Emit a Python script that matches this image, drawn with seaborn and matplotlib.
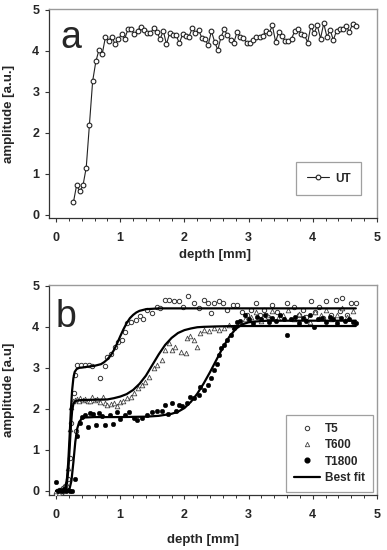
import numpy as np
import pandas as pd
import matplotlib
matplotlib.use("Agg")
import matplotlib.pyplot as plt
from matplotlib.ticker import MultipleLocator
from matplotlib.lines import Line2D
import seaborn as sns

# ---------------- data: panel a ----------------
UT_x = [0.27, 0.32, 0.37, 0.42, 0.47, 0.52, 0.57, 0.62, 0.67, 0.72,
        0.77, 0.82, 0.87, 0.92, 0.97, 1.02, 1.07, 1.12, 1.17, 1.22,
        1.27, 1.32, 1.37, 1.42, 1.47, 1.52, 1.57, 1.62, 1.67, 1.72,
        1.77, 1.82, 1.87, 1.92, 1.97, 2.02, 2.07, 2.12, 2.17, 2.22,
        2.27, 2.32, 2.37, 2.42, 2.47, 2.52, 2.57, 2.62, 2.67, 2.72,
        2.77, 2.82, 2.87, 2.92, 2.97, 3.02, 3.07, 3.12, 3.17, 3.22,
        3.27, 3.32, 3.37, 3.42, 3.47, 3.52, 3.57, 3.62, 3.67, 3.72,
        3.77, 3.82, 3.87, 3.92, 3.97, 4.02, 4.07, 4.12, 4.17, 4.22,
        4.27, 4.32, 4.37, 4.42, 4.47, 4.52, 4.57, 4.62, 4.67]
UT_y = [0.30, 0.72, 0.57, 0.72, 1.15, 2.20, 3.26, 3.74, 4.03, 3.93,
        4.34, 4.25, 4.34, 4.16, 4.28, 4.40, 4.30, 4.52, 4.52, 4.41,
        4.49, 4.59, 4.51, 4.43, 4.43, 4.55, 4.47, 4.28, 4.49, 4.16,
        4.44, 4.39, 4.39, 4.18, 4.40, 4.36, 4.34, 4.55, 4.44, 4.51,
        4.32, 4.28, 4.14, 4.48, 4.22, 4.02, 4.34, 4.52, 4.38, 4.26,
        4.20, 4.46, 4.33, 4.31, 4.20, 4.20, 4.26, 4.33, 4.33, 4.36,
        4.49, 4.43, 4.62, 4.22, 4.46, 4.36, 4.23, 4.23, 4.30, 4.49,
        4.52, 4.41, 4.39, 4.20, 4.61, 4.43, 4.62, 4.30, 4.67, 4.34,
        4.51, 4.26, 4.49, 4.54, 4.54, 4.61, 4.46, 4.66, 4.61]

# ---------------- data: panel b ----------------
T5_x = [0.00, 0.04, 0.08, 0.11, 0.14, 0.18, 0.21, 0.23, 0.31, 0.28,
        0.30, 0.33, 0.39, 0.45, 0.51, 0.56, 0.69, 0.76, 0.80, 0.86,
        0.92, 0.97, 1.03, 1.07, 1.10, 1.17, 1.25, 1.31, 1.36, 1.42,
        1.49, 1.57, 1.62, 1.69, 1.76, 1.83, 1.91, 1.98, 2.06, 2.15,
        2.23, 2.31, 2.36, 2.41, 2.46, 2.54, 2.60, 2.67, 2.75, 2.82,
        2.90, 2.98, 3.04, 3.11, 3.17, 3.24, 3.30, 3.37, 3.44, 3.50,
        3.60, 3.71, 3.78, 3.84, 3.90, 3.97, 4.04, 4.10, 4.16, 4.20,
        4.28, 4.36, 4.42, 4.46, 4.53, 4.59, 4.67]
T5_y = [-0.08, 0.02, -0.05, 0.08, 0.12, 0.30, 0.80, 1.66, 1.45, 2.39,
        2.83, 3.07, 3.06, 3.06, 3.06, 3.05, 2.76, 3.05, 3.27, 3.33,
        3.52, 3.64, 3.68, 3.88, 4.09, 4.13, 4.17, 4.27, 4.19, 4.41,
        4.33, 4.49, 4.45, 4.66, 4.66, 4.62, 4.62, 4.49, 4.74, 4.58,
        4.45, 4.66, 4.58, 4.33, 4.58, 4.62, 4.58, 4.41, 4.53, 4.53,
        4.37, 4.29, 4.40, 4.58, 4.30, 4.41, 4.25, 4.53, 4.35, 4.22,
        4.58, 4.49, 4.30, 4.41, 4.25, 4.62, 4.35, 4.49, 4.22, 4.62,
        4.30, 4.66, 4.38, 4.70, 4.28, 4.58, 4.58]

T600_x = [0.00, 0.04, 0.07, 0.10, 0.13, 0.16, 0.19, 0.21, 0.23, 0.26,
          0.29, 0.32, 0.35, 0.38, 0.42, 0.45, 0.49, 0.53, 0.56, 0.60,
          0.64, 0.69, 0.73, 0.77, 0.80, 0.85, 0.90, 0.95, 1.00, 1.05,
          1.11, 1.16, 1.21, 1.27, 1.34, 1.39, 1.45, 1.52, 1.57, 1.65,
          1.70, 1.76, 1.81, 1.86, 1.94, 2.02, 2.04, 2.09, 2.15, 2.20,
          2.25, 2.30, 2.38, 2.46, 2.54, 2.61, 2.69, 2.77, 2.87, 2.95,
          3.03, 3.12, 3.20, 3.28, 3.36, 3.45, 3.53, 3.62, 3.70, 3.78,
          3.87, 3.95, 4.03, 4.12, 4.20, 4.28, 4.37, 4.45, 4.53, 4.62]
T600_y = [0.00, -0.05, 0.05, 0.00, 0.10, 0.20, 0.55, 1.50, 2.05, 2.20,
          2.22, 2.25, 2.20, 2.27, 2.22, 2.23, 2.18, 2.20, 2.29, 2.21,
          2.25, 2.17, 2.30, 2.15, 2.10, 2.12, 2.14, 2.08, 2.17, 2.20,
          2.27, 2.30, 2.39, 2.51, 2.59, 2.66, 2.78, 3.00, 3.08, 3.20,
          3.44, 3.60, 3.44, 3.52, 3.39, 3.35, 3.73, 3.77, 3.69, 3.52,
          3.85, 3.93, 3.90, 3.97, 3.93, 3.97, 4.05, 4.00, 4.12, 4.20,
          4.25, 4.35, 4.15, 4.30, 4.38, 4.22, 4.28, 4.40, 4.18, 4.32,
          4.25, 4.12, 4.35, 4.28, 4.40, 4.20, 4.30, 4.45, 4.25, 4.38]

T1800_x = [0.00, 0.03, 0.06, 0.09, 0.12, 0.15, 0.18, 0.21, 0.25, 0.29,
           0.33, 0.37, 0.41, 0.45, 0.50, 0.53, 0.58, 0.62, 0.67, 0.72,
           0.77, 0.84, 0.89, 0.95, 1.00, 1.08, 1.13, 1.21, 1.26, 1.34,
           1.42, 1.49, 1.57, 1.65, 1.70, 1.75, 1.81, 1.87, 1.91, 1.96,
           2.04, 2.09, 2.15, 2.23, 2.25, 2.30, 2.36, 2.41, 2.46, 2.50,
           2.54, 2.57, 2.62, 2.67, 2.72, 2.77, 2.82, 2.87, 2.95, 3.01,
           3.07, 3.13, 3.19, 3.25, 3.31, 3.37, 3.43, 3.49, 3.55, 3.60,
           3.66, 3.72, 3.78, 3.84, 3.90, 3.96, 4.02, 4.08, 4.14, 4.20,
           4.26, 4.32, 4.38, 4.44, 4.50, 4.56, 4.62, 4.67]
T1800_y = [0.22, 0.00, 0.02, 0.00, 0.05, 0.00, 0.02, 0.00, 0.00, 0.30,
           1.35, 1.65, 1.80, 1.85, 1.56, 1.90, 1.88, 1.60, 1.90, 1.82,
           1.60, 1.85, 1.63, 1.92, 1.75, 1.85, 1.92, 1.78, 1.74, 1.78,
           1.85, 1.92, 1.95, 1.95, 2.10, 1.88, 2.14, 1.95, 2.10, 2.06,
           2.14, 2.30, 2.27, 2.35, 2.54, 2.47, 2.59, 2.76, 2.95, 3.10,
           3.32, 3.48, 3.56, 3.68, 3.80, 3.97, 4.12, 4.15, 4.29, 4.20,
           4.10, 4.25, 4.18, 4.30, 4.12, 4.22, 4.15, 4.28, 4.20, 3.80,
           4.18, 4.25, 4.10, 4.22, 4.15, 4.30, 4.00, 4.18, 4.22, 4.12,
           4.25, 4.18, 4.10, 4.22, 4.15, 4.20, 4.12, 4.10]

# best-fit curves
FIT_T5_x = [0.00, 0.10, 0.13, 0.15, 0.17, 0.19, 0.21, 0.23, 0.25, 0.27,
            0.29, 0.32, 0.36, 0.42, 0.50, 0.55, 0.60, 0.65, 0.70, 0.75,
            0.80, 0.85, 0.90, 0.95, 1.00, 1.05, 1.10, 1.15, 1.20, 1.25,
            1.30, 1.35, 1.40, 1.50, 1.60, 4.67]
FIT_T5_y = [0.00, 0.00, 0.03, 0.10, 0.30, 0.70, 1.30, 1.95, 2.45, 2.75,
            2.90, 2.97, 3.00, 3.01, 3.03, 3.04, 3.05, 3.07, 3.09, 3.14,
            3.21, 3.30, 3.43, 3.59, 3.77, 3.94, 4.09, 4.21, 4.29, 4.35,
            4.39, 4.41, 4.43, 4.44, 4.45, 4.45]

FIT_T600_x = [0.00, 0.12, 0.15, 0.17, 0.19, 0.21, 0.23, 0.25, 0.27, 0.30,
              0.35, 0.50, 0.80, 0.90, 1.00, 1.10, 1.20, 1.30, 1.40, 1.50,
              1.60, 1.70, 1.80, 1.90, 2.00, 2.10, 2.20, 2.30, 2.50, 2.80,
              4.67]
FIT_T600_y = [0.00, 0.00, 0.05, 0.20, 0.50, 1.00, 1.55, 1.95, 2.12, 2.19,
              2.21, 2.22, 2.23, 2.26, 2.30, 2.36, 2.46, 2.61, 2.81, 3.07,
              3.33, 3.56, 3.73, 3.85, 3.92, 3.96, 3.99, 4.00, 4.01, 4.02,
              4.02]

FIT_T1800_x = [0.00, 0.18, 0.21, 0.24, 0.27, 0.30, 0.33, 0.36, 0.40, 0.45,
               0.60, 1.00, 1.40, 1.60, 1.80, 1.90, 2.00, 2.10, 2.20, 2.30,
               2.40, 2.50, 2.60, 2.70, 2.80, 2.90, 3.00, 3.10, 3.30, 4.67]
FIT_T1800_y = [0.00, 0.00, 0.05, 0.25, 0.70, 1.20, 1.52, 1.68, 1.76, 1.79,
               1.80, 1.80, 1.81, 1.83, 1.88, 1.93, 2.02, 2.17, 2.37, 2.62,
               2.90, 3.20, 3.50, 3.76, 3.95, 4.06, 4.11, 4.13, 4.15, 4.15]

# ---------------- style ----------------
sns.set_style("ticks")
plt.rcParams['font.family'] = ['Liberation Sans', 'DejaVu Sans']
plt.rcParams['font.weight'] = 'bold'
plt.rcParams['axes.labelweight'] = 'bold'

fig = plt.figure(figsize=(3.87, 5.50), dpi=100)
W, H = 387.0, 550.0


def px_axes(l, t, r, b):
    return fig.add_axes([l / W, 1 - b / H, (r - l) / W, (b - t) / H])


ax_a = px_axes(49, 9, 377, 218)
ax_b = px_axes(49, 285, 377, 495)


def style_axes(ax, ylim):
    ax.set_xlim(-0.11, 5.0)
    ax.set_ylim(*ylim)
    ax.xaxis.set_major_locator(MultipleLocator(1))
    ax.xaxis.set_minor_locator(MultipleLocator(0.2))
    ax.yaxis.set_major_locator(MultipleLocator(1))
    ax.tick_params(axis='both', which='major', direction='out', length=3.0,
                   width=0.8, color='#333333', labelsize=9)
    ax.tick_params(axis='x', which='major', pad=7)
    ax.tick_params(axis='y', which='major', pad=4)
    ax.tick_params(axis='x', which='minor', direction='out', length=1.8,
                   width=0.7, color='#333333')
    for lab in ax.get_xticklabels() + ax.get_yticklabels():
        lab.set_fontweight('bold')
    for s in ['left', 'bottom']:
        ax.spines[s].set_color('#333333')
        ax.spines[s].set_linewidth(0.9)
    for s in ['top', 'right']:
        ax.spines[s].set_visible(True)
        ax.spines[s].set_color('#9a9a9a')
        ax.spines[s].set_linewidth(1.0)


# ---------------- panel a ----------------
df_a = pd.DataFrame({'depth': UT_x, 'amp': UT_y})
sns.lineplot(data=df_a, x='depth', y='amp', ax=ax_a, color='#222222',
             lw=0.8, marker='o', markersize=3.4, markerfacecolor='white',
             markeredgecolor='#222222', markeredgewidth=0.8, legend=False)
style_axes(ax_a, (-0.08, 5.02))
ax_a.set_xlabel('depth [mm]', fontsize=9.5, fontweight='bold')
ax_a.set_ylabel('amplitude [a.u.]', fontsize=9.5, fontweight='bold')
ax_a.xaxis.set_label_coords(0.505, -0.15)
ax_a.yaxis.set_label_coords(-0.105, 0.5)
ax_a.text(0.035, 0.815, 'a', transform=ax_a.transAxes, fontsize=27,
          fontweight='normal', va='baseline', ha='left')
h_ut = Line2D([], [], color='#222222', lw=0.8, marker='o', markersize=3.4,
              markerfacecolor='white', markeredgecolor='#222222',
              markeredgewidth=0.8)
leg_a = ax_a.legend([h_ut], ['UT'], loc='upper right',
                    bbox_to_anchor=(0.952, 0.268), borderaxespad=0,
                    frameon=True, fancybox=False,
                    handlelength=1.9, borderpad=0.9, handletextpad=0.5,
                    prop={'weight': 'bold', 'size': 8.5})
leg_a.get_frame().set_edgecolor('#888888')
leg_a.get_frame().set_linewidth(0.9)

# ---------------- panel b ----------------
df_t5 = pd.DataFrame({'depth': T5_x, 'amp': T5_y})
df_t600 = pd.DataFrame({'depth': T600_x, 'amp': T600_y})
df_t1800 = pd.DataFrame({'depth': T1800_x, 'amp': T1800_y})

sns.scatterplot(data=df_t5, x='depth', y='amp', ax=ax_b, marker='o',
                s=10, facecolor='white', edgecolor='#333333', linewidth=0.7,
                zorder=3)
sns.scatterplot(data=df_t600, x='depth', y='amp', ax=ax_b, marker='^',
                s=11, facecolor='white', edgecolor='#444444', linewidth=0.6,
                zorder=3)
sns.scatterplot(data=df_t1800, x='depth', y='amp', ax=ax_b, marker='o',
                s=11, color='black', edgecolor='black', linewidth=0.3,
                zorder=4)

for fx, fy in [(FIT_T5_x, FIT_T5_y), (FIT_T600_x, FIT_T600_y),
               (FIT_T1800_x, FIT_T1800_y)]:
    dfit = pd.DataFrame({'depth': fx, 'amp': fy})
    sns.lineplot(data=dfit, x='depth', y='amp', ax=ax_b, color='black',
                 lw=1.6, sort=False, legend=False, zorder=5)

style_axes(ax_b, (-0.1, 5.02))
ax_b.set_xlabel('depth [mm]', fontsize=9.5, fontweight='bold')
ax_b.set_ylabel('amplitude [a.u]', fontsize=9.5, fontweight='bold')
ax_b.xaxis.set_label_coords(0.47, -0.185)
ax_b.yaxis.set_label_coords(-0.105, 0.5)
ax_b.text(0.02, 0.80, 'b', transform=ax_b.transAxes, fontsize=27,
          fontweight='normal', va='baseline', ha='left')

h5 = Line2D([], [], ls='none', marker='o', markersize=3.2,
            markerfacecolor='white', markeredgecolor='#333333',
            markeredgewidth=0.7)
h600 = Line2D([], [], ls='none', marker='^', markersize=3.2,
              markerfacecolor='white', markeredgecolor='#444444',
              markeredgewidth=0.6)
h1800 = Line2D([], [], ls='none', marker='o', markersize=3.4,
               markerfacecolor='black', markeredgecolor='black')
hfit = Line2D([], [], color='black', lw=1.6)
leg_b = ax_b.legend([h5, h600, h1800, hfit], ['T5', 'T600', 'T1800', 'Best fit'],
                    loc='upper right', bbox_to_anchor=(0.988, 0.381),
                    borderaxespad=0, frameon=True, fancybox=False,
                    handlelength=2.2, borderpad=0.7, handletextpad=0.4,
                    labelspacing=0.35,
                    prop={'weight': 'bold', 'size': 8.5})
leg_b.get_frame().set_edgecolor('#888888')
leg_b.get_frame().set_linewidth(0.9)

fig.savefig('out.png', dpi=100)
